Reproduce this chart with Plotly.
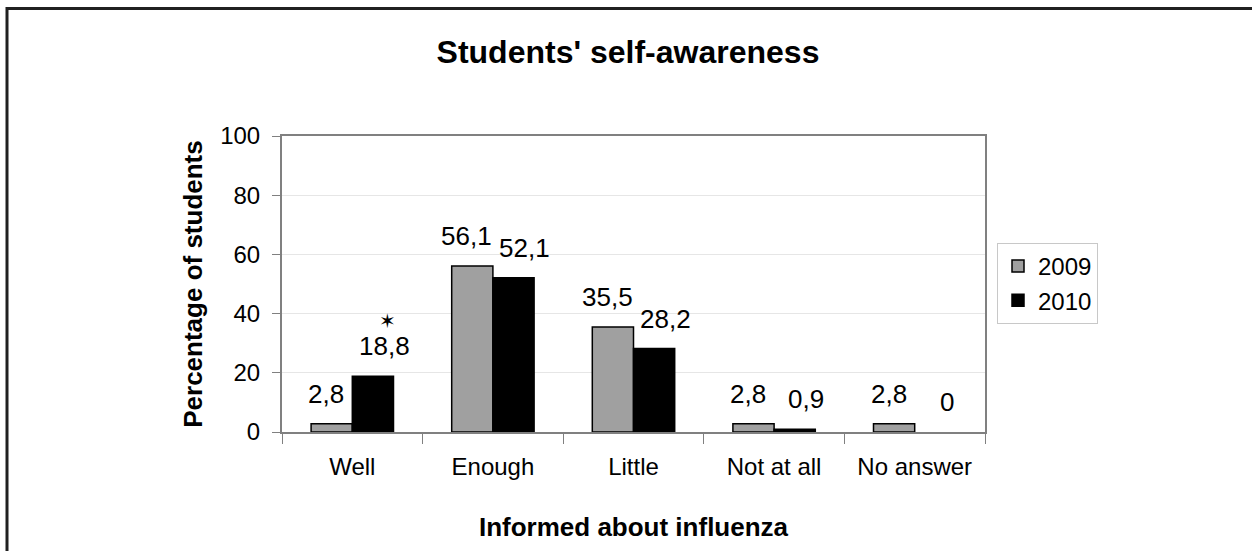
import plotly.graph_objects as go

categories = ["Well", "Enough", "Little", "Not at all", "No answer"]
values_2009 = [2.8, 56.1, 35.5, 2.8, 2.8]
values_2010 = [18.8, 52.1, 28.2, 0.9, 0.0]
series_names = ["2009", "2010"]
y_ticks = [0, 20, 40, 60, 80, 100]
star_category = "Well"
star_y = 37.5

FONT = "Arial, Liberation Sans, sans-serif"

W, H = 1252, 551
L, R, T, B = 282, 267, 136, 119
PW, PH = W - L - R, H - T - B


def px_x(x):
    return (x - L) / PW


def px_y(y):
    return (H - B - y) / PH


def fmt(v):
    s = f"{v:.1f}".replace(".", ",")
    if v == 0:
        s = "0"
    return s


fig = go.Figure()
colors = ["#a0a0a0", "#000000"]
for name, vals, col in zip(series_names, [values_2009, values_2010], colors):
    fig.add_trace(go.Bar(
        x=categories, y=vals, name=name,
        marker=dict(color=col,
                    line=dict(color="#000000",
                              width=[1.5 if v > 0 else 0 for v in vals])),
    ))

annotations = []
offsets = [-26, 32]
for vals, off in zip([values_2009, values_2010], offsets):
    for c, v in zip(categories, vals):
        annotations.append(dict(
            x=c, y=v, xref="x", yref="y", text=fmt(v), showarrow=False,
            xshift=off, yanchor="bottom", yshift=13,
            font=dict(family=FONT, size=26, color="#000"),
        ))
annotations.append(dict(
    x=star_category, y=star_y, xref="x", yref="y", text="✶", showarrow=False,
    xshift=35, font=dict(family="DejaVu Sans", size=20, color="#000"),
))

fig.update_layout(
    width=W, height=H,
    margin=dict(l=L, r=R, t=T, b=B, pad=0),
    paper_bgcolor="white", plot_bgcolor="white",
    barmode="group", bargap=0.414, bargroupgap=0,
    title=dict(text="<b>Students' self-awareness</b>", x=px_x(628), xref="paper",
               xanchor="center", y=1 - 52 / H, yanchor="middle",
               font=dict(family=FONT, size=32, color="#000")),
    font=dict(family=FONT, size=24, color="#000"),
    showlegend=True,
    legend=dict(x=px_x(1098), y=px_y(243), xanchor="right", yanchor="top",
                bordercolor="#c8c8c8", borderwidth=1, bgcolor="white",
                font=dict(family=FONT, size=24, color="#000"),
                itemwidth=30, tracegroupgap=0),
    annotations=annotations,
    shapes=[dict(type="rect", xref="paper", yref="paper",
                 x0=px_x(7), y0=-3, x1=3, y1=px_y(8.5),
                 line=dict(color="#202020", width=3), layer="above")],
)

fig.update_xaxes(
    showline=True, linecolor="#808080", linewidth=2, mirror=True,
    ticks="outside", tickson="boundaries", ticklen=10, tickcolor="#808080",
    ticklabelstandoff=12,
    tickfont=dict(family=FONT, size=24, color="#000"),
    title=dict(text="<b>Informed about influenza</b>", standoff=39,
               font=dict(family=FONT, size=26, color="#000")),
)
fig.update_yaxes(
    range=[0, 100], tickvals=y_ticks, showgrid=True, gridcolor="#e6e6e6",
    showline=True, linecolor="#808080", linewidth=2, mirror=True,
    ticks="outside", ticklen=8, tickcolor="#808080", zeroline=False,
    ticklabelstandoff=7,
    tickfont=dict(family=FONT, size=24, color="#000"),
    title=dict(text="<b>Percentage of students</b>", standoff=10,
               font=dict(family=FONT, size=26, color="#000")),
)

fig.write_html("out.html", config={"displayModeBar": False},
               post_script="document.body.style.margin='0';")
